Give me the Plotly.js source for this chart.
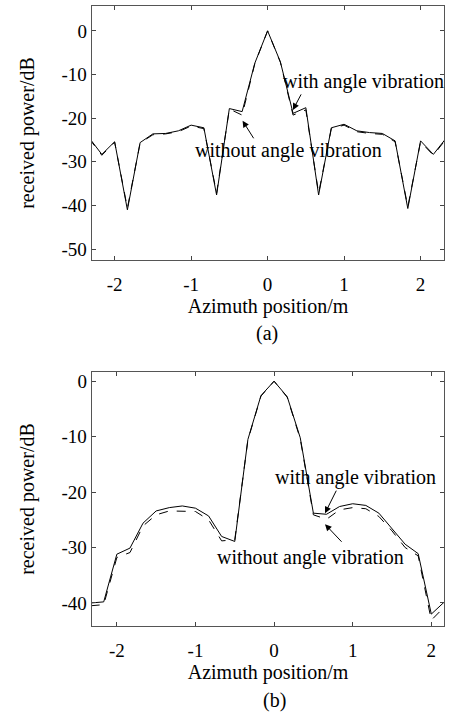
<!DOCTYPE html>
<html>
<head>
<meta charset="utf-8">
<script src="https://cdn.plot.ly/plotly-3.0.1.min.js"></script>
<style>html,body{margin:0;padding:0;background:#fff;}#chart{width:449px;height:713px;}</style>
</head>
<body>
<div id="chart"></div>
<script>
// ---- data (a) ----
var xTop = [-2.333, -2.167, -2.0, -1.833, -1.667, -1.5, -1.333, -1.167, -1.0, -0.833, -0.667, -0.5, -0.333, -0.167, 0, 0.167, 0.333, 0.5, 0.667, 0.833, 1.0, 1.167, 1.333, 1.5, 1.667, 1.833, 2.0, 2.167, 2.333];
var topWith = [-24.5, -28.3, -25.4, -41.0, -25.6, -23.6, -23.5, -22.9, -21.6, -22.2, -37.6, -17.8, -18.5, -7.4, 0, -7.1, -18.9, -17.6, -37.6, -22.2, -21.4, -22.9, -23.3, -23.5, -25.2, -40.7, -25.2, -28.3, -24.6];
var topWithout = [-24.7, -28.5, -25.5, -40.6, -25.7, -23.8, -23.6, -23.1, -21.8, -22.4, -37.2, -17.9, -19.3, -7.5, 0, -7.2, -19.3, -18.1, -37.2, -22.4, -21.6, -23.1, -23.5, -23.7, -25.4, -40.3, -25.4, -28.5, -24.8];
// ---- data (b) ----
var xBot = [-2.333, -2.167, -2.0, -1.833, -1.667, -1.5, -1.333, -1.167, -1.0, -0.833, -0.667, -0.5, -0.333, -0.167, 0, 0.167, 0.333, 0.5, 0.667, 0.833, 1.0, 1.167, 1.333, 1.5, 1.667, 1.833, 2.0, 2.167];
var botWith = [-40.0, -39.8, -31.2, -30.1, -25.6, -23.4, -22.8, -22.5, -22.9, -24.3, -28.0, -28.9, -10.5, -2.6, 0, -2.8, -10.2, -23.8, -24.0, -22.6, -22.1, -22.4, -23.8, -26.5, -29.4, -31.1, -42.0, -39.8];
var botWithout = [-40.5, -40.3, -31.8, -30.9, -26.1, -24.1, -23.4, -23.4, -23.5, -25.0, -28.8, -28.6, -10.6, -2.7, 0, -2.9, -10.4, -24.1, -24.9, -23.2, -22.8, -23.0, -24.4, -27.0, -30.0, -31.5, -43.1, -40.7];
// ---- tick labels ----
var xTicks = [-2, -1, 0, 1, 2];
var xTickText = ['-2', '-1', '0', '1', '2'];
var yTicksTop = [0, -10, -20, -30, -40, -50];
var yTickTextTop = ['0', '-10', '-20', '-30', '-40', '-50'];
var yTicksBot = [0, -10, -20, -30, -40];
var yTickTextBot = ['0', '-10', '-20', '-30', '-40'];
var labelWith = 'with angle vibration';
var labelWithout = 'without angle vibration';
var xTitle = 'Azimuth position/m';
var yTitle = 'received power/dB';

var FONT = 'Liberation Serif';
var line = {color: '#000', width: 1};
var dashLine = {color: '#000', width: 1, dash: 'dash'};

var traces = [
  {x: xTop, y: topWithout, type: 'scatter', mode: 'lines', line: dashLine, xaxis: 'x', yaxis: 'y', name: labelWithout},
  {x: xTop, y: topWith, type: 'scatter', mode: 'lines', line: line, xaxis: 'x', yaxis: 'y', name: labelWith},
  {x: xBot, y: botWithout, type: 'scatter', mode: 'lines', line: dashLine, xaxis: 'x2', yaxis: 'y2', name: labelWithout},
  {x: xBot, y: botWith, type: 'scatter', mode: 'lines', line: line, xaxis: 'x2', yaxis: 'y2', name: labelWith}
];

function axisBase() {
  return {
    showline: true, mirror: 'ticks', linecolor: '#555', linewidth: 1,
    ticks: 'inside', ticklen: 4, tickcolor: '#444', tickwidth: 1,
    showgrid: false, zeroline: false, fixedrange: true,
    tickfont: {family: FONT, size: 19, color: '#000'},
    tickmode: 'array'
  };
}
var titleFont = {family: FONT, size: 20, color: '#000'};
var xa = Object.assign(axisBase(), {domain: [0.2042, 0.9895], range: [-2.30, 2.31], anchor: 'y', tickvals: xTicks, ticktext: xTickText,
  ticklabelstandoff: 7, title: {text: xTitle, font: titleFont, standoff: 0}});
var ya = Object.assign(axisBase(), {domain: [0.6353, 0.9916], range: [-52.5, 5.7], anchor: 'x', tickvals: yTicksTop, ticktext: yTickTextTop,
  title: {text: yTitle, font: titleFont, standoff: 21}});
var xa2 = Object.assign(axisBase(), {domain: [0.2042, 0.9895], range: [-2.32, 2.165], anchor: 'y2', tickvals: xTicks, ticktext: xTickText,
  ticklabelstandoff: 7, title: {text: xTitle, font: titleFont, standoff: 0}});
var ya2 = Object.assign(axisBase(), {domain: [0.1224, 0.4778], range: [-44.1, 1.6], anchor: 'x2', tickvals: yTicksBot, ticktext: yTickTextBot,
  title: {text: yTitle, font: titleFont, standoff: 21}});

var tfont = {family: FONT, size: 20, color: '#000'};
function textAnn(xr, yr, x, y, t) {
  return {xref: xr, yref: yr, x: x, y: y, text: t, showarrow: false, font: tfont, xanchor: 'center', yanchor: 'middle'};
}
function arrowAnn(xr, yr, x, y, ax, ay) {
  return {xref: xr, yref: yr, x: x, y: y, text: '', showarrow: true, ax: ax, ay: ay,
    arrowhead: 2, arrowsize: 1.3, arrowwidth: 1, arrowcolor: '#000'};
}
var annotations = [
  textAnn('x', 'y', 1.259, -11.6, labelWith),
  arrowAnn('x', 'y', 0.331, -18.1, 9, -17),
  textAnn('x', 'y', 0.275, -27.45, labelWithout),
  arrowAnn('x', 'y', -0.327, -20.6, 12, 19),
  textAnn('x2', 'y2', 1.042, -17.4, labelWith),
  arrowAnn('x2', 'y2', 0.648, -23.8, 12, -24),
  textAnn('x2', 'y2', 0.458, -31.75, labelWithout),
  arrowAnn('x2', 'y2', 0.648, -25.8, 18, 19),
  {xref: 'paper', yref: 'paper', x: 267 / 449, y: 1 - 334 / 713, text: '(a)', showarrow: false, font: tfont, xanchor: 'center', yanchor: 'middle'},
  {xref: 'paper', yref: 'paper', x: 274 / 449, y: 1 - 700 / 713, text: '(b)', showarrow: false, font: tfont, xanchor: 'center', yanchor: 'middle'}
];

var layout = {
  width: 449, height: 713,
  margin: {l: 0, r: 0, t: 0, b: 0},
  paper_bgcolor: '#fff', plot_bgcolor: '#fff',
  showlegend: false,
  xaxis: xa, yaxis: ya, xaxis2: xa2, yaxis2: ya2,
  annotations: annotations
};
Plotly.newPlot('chart', traces, layout, {displayModeBar: false, staticPlot: true});
</script>
</body>
</html>
